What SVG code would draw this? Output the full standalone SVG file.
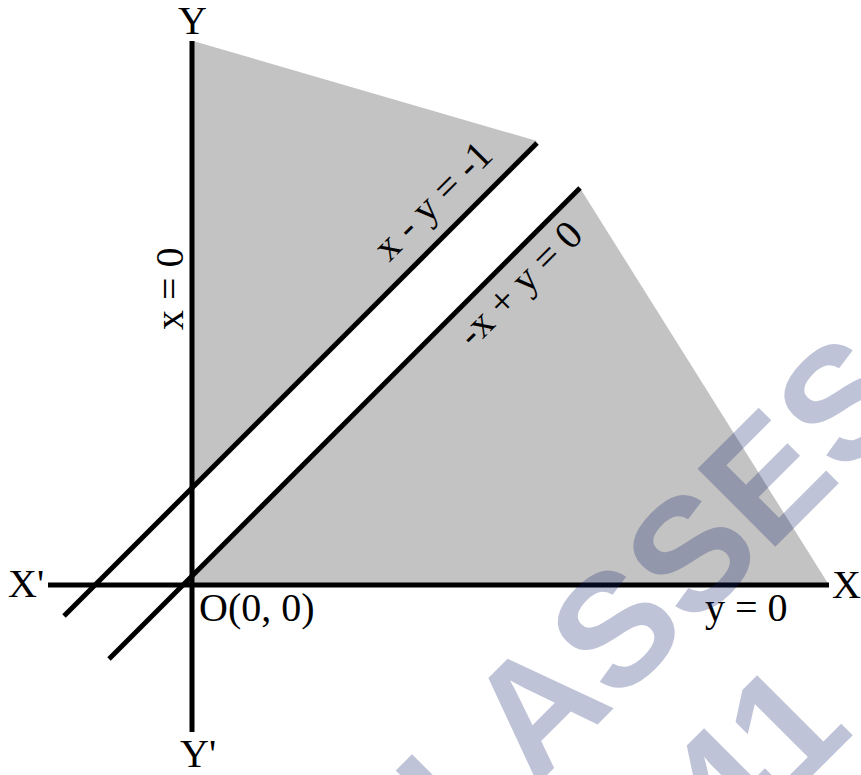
<svg xmlns="http://www.w3.org/2000/svg" width="861" height="775" viewBox="0 0 861 775">
<style>
.lbl{font-family:"Liberation Serif","Times New Roman",serif;font-size:40px;fill:#000}
.ln{stroke:#000;stroke-width:5;fill:none}
.shade{fill:#c3c3c3;stroke:none}
.wm{font-family:"Liberation Sans",Arial,sans-serif;font-weight:bold;font-size:160px;fill:#14206e;fill-opacity:0.27}
</style>
<rect width="861" height="775" fill="#fff"/>
<g id="regions">
<polygon id="region-upper" class="shade" points="193,41 537,141 193,487"/>
<polygon id="region-lower" class="shade" points="580,188 829,585 183,585"/>
</g>
<g id="connectors">
<line id="y-axis" class="ln" x1="192" y1="41" x2="192" y2="732"/>
<line id="x-axis" class="ln" x1="48" y1="585" x2="829" y2="585"/>
<line id="line-x-y-neg1" class="ln" x1="537" y1="143" x2="64" y2="616"/>
<line id="line-negx-y-0" class="ln" x1="580" y1="188" x2="109" y2="659"/>
</g>
<g id="axis-labels">
<text class="lbl" x="178" y="34">Y</text>
<text class="lbl" x="180" y="767">Y'</text>
<text class="lbl" x="8" y="597">X'</text>
<text class="lbl" x="832" y="598">X</text>
<text class="lbl" x="199" y="621">O(0, 0)</text>
</g>
<g id="line-labels">
<text class="lbl" x="705" y="621">y = 0</text>
<text class="lbl" transform="translate(183,330) rotate(-90)">x = 0</text>
<text class="lbl" text-anchor="middle" transform="translate(442,210) rotate(-45)">x - y = -1</text>
<text class="lbl" text-anchor="middle" transform="translate(529,293) rotate(-45)">-x + y = 0</text>
</g>
<g id="watermark">
<text class="wm" transform="translate(466,856) rotate(-45)">LASSES</text>
<text class="wm" transform="translate(730,858) rotate(-45)">41</text>
</g>
</svg>
